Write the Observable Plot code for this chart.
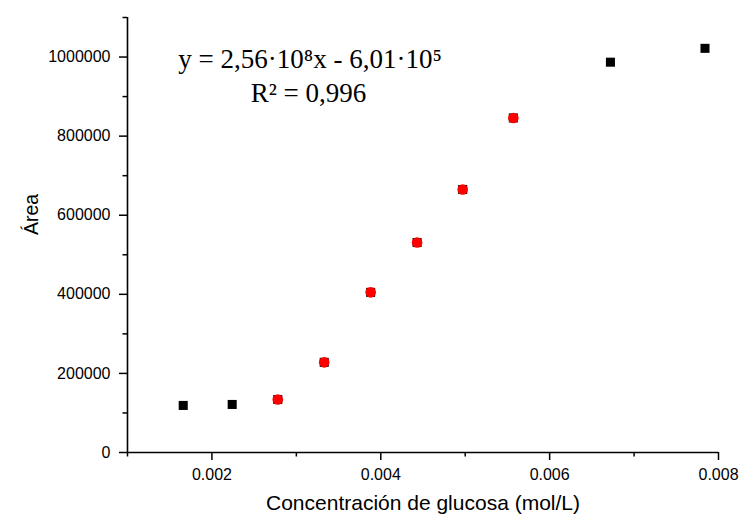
<!DOCTYPE html>
<html>
<head>
<meta charset="utf-8">
<script src="https://cdn.jsdelivr.net/npm/d3@7"></script>
<script src="https://cdn.jsdelivr.net/npm/@observablehq/plot@0.6"></script>
<style>
  html, body { margin: 0; padding: 0; background: #fff; }
</style>
</head>
<body>
<div id="chart"></div>
<script>
// Data
const conc  = [0.00166, 0.00224, 0.00278, 0.00333, 0.00388, 0.00443, 0.00497, 0.00557, 0.00672, 0.00784];
const area  = [119000, 121500, 134000, 228000, 405000, 531000, 665000, 846000, 987000, 1022000];
const inFit = [false, false, true, true, true, true, true, true, false, false];

const xMajor = [0.002, 0.004, 0.006, 0.008];
const xMinor = [0.001, 0.003, 0.005, 0.007];
const yMajor = [0, 200000, 400000, 600000, 800000, 1000000];
const yMinor = [100000, 300000, 500000, 700000, 900000, 1100000];

const eqText = ["y = 2,56·10⁸x - 6,01·10⁵", "R² = 0,996"];
const eqX = [0.003162, 0.003144];
const eqY = [995000, 907000];

const xTitle = "Concentración de glucosa (mol/L)";
const yTitle = "Área";

const points = conc.map((c, i) => ({conc: c, area: area[i], fit: inFit[i]}));
const fitPoints = points.filter(d => d.fit);
const eq = eqText.map((t, i) => ({t, x: eqX[i], y: eqY[i]}));

const chart = Plot.plot({
  width: 742,
  height: 520,
  marginLeft: 127,
  marginRight: 24,
  marginTop: 17,
  marginBottom: 68,
  x: {domain: [0.001, 0.008]},
  y: {domain: [0, 1100000]},
  style: {fontFamily: "'Liberation Sans', Arial, sans-serif", fontSize: "16px", color: "#000", background: "#fff"},
  marks: [
    Plot.axisX({ticks: xMajor, tickSize: 8, tickPadding: 8.5, tickFormat: d3.format(".3f"), label: null, strokeWidth: 1.5, fontSize: 16}),
    Plot.axisX({ticks: xMinor, tickSize: 4.5, tickFormat: () => "", label: null, strokeWidth: 1.5}),
    Plot.axisY({ticks: yMajor, tickSize: 8, tickPadding: 9, tickFormat: d3.format("d"), label: null, strokeWidth: 1.5, fontSize: 16}),
    Plot.axisY({ticks: yMinor, tickSize: 4.5, tickFormat: () => "", label: null, strokeWidth: 1.5}),
    Plot.ruleY([0], {stroke: "#000", strokeWidth: 1.6}),
    Plot.ruleX([0.001], {stroke: "#000", strokeWidth: 1.6}),
    Plot.dot(points, {x: "conc", y: "area", symbol: "square", r: 5.1, fill: "#000", stroke: "none"}),
    Plot.dot(fitPoints, {x: "conc", y: "area", symbol: "circle", r: 5.3, fill: "#ff0000", stroke: "none"}),
    Plot.text(eq, {x: "x", y: "y", text: "t", fontFamily: "'Liberation Serif', 'Times New Roman', serif", fontSize: 27, fill: "#000"}),
    Plot.text([xTitle], {frameAnchor: "bottom", dy: 57, fontSize: 21, fill: "#000"}),
    Plot.text([yTitle], {frameAnchor: "left", rotate: -90, dx: -96, dy: 0, fontSize: 19.5, fill: "#000"})
  ]
});
document.getElementById("chart").appendChild(chart);
</script>
</body>
</html>
